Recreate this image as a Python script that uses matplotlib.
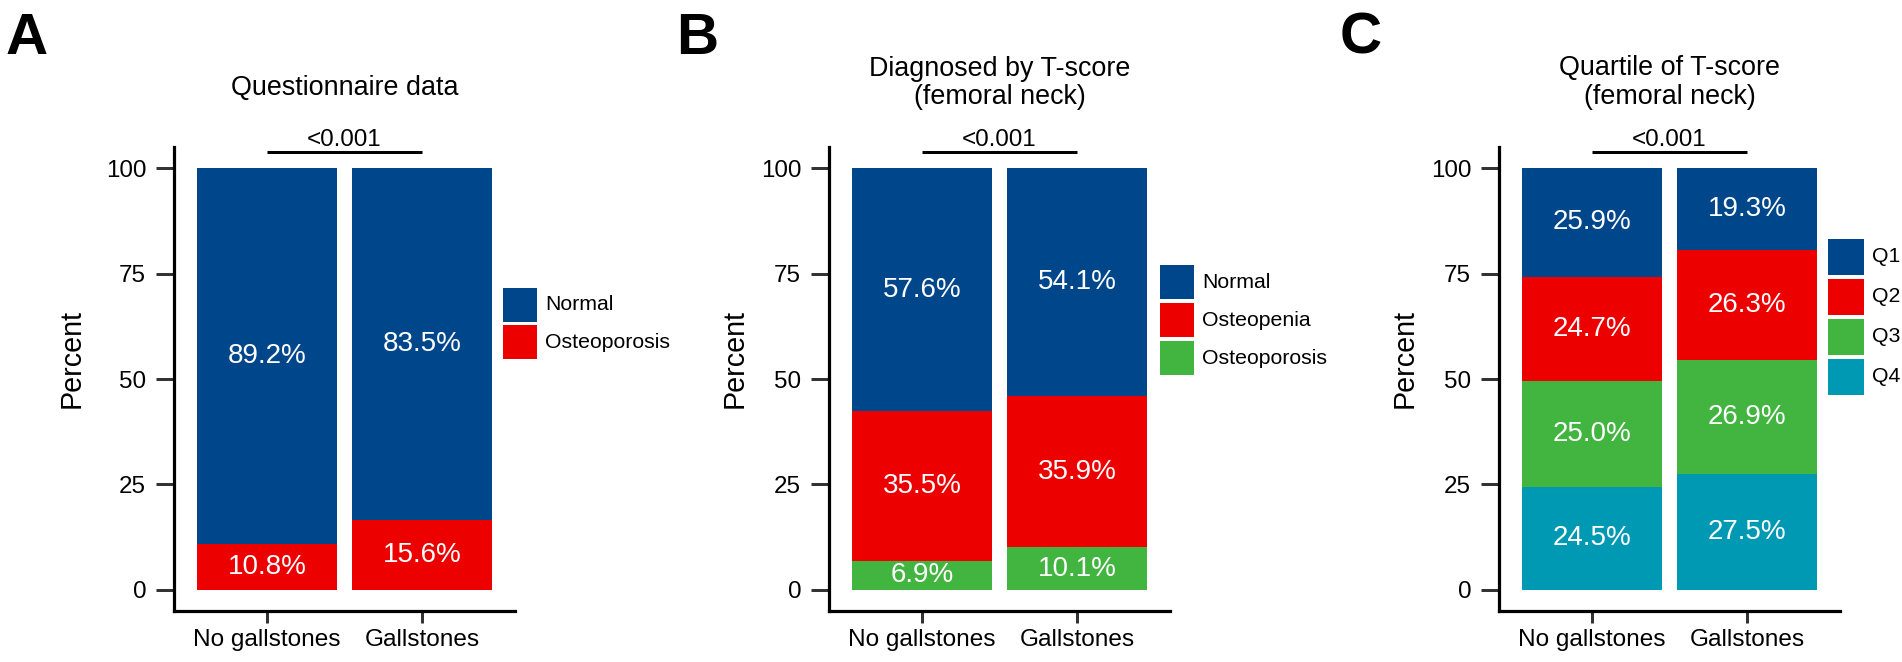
import matplotlib
matplotlib.use("Agg")
import matplotlib.pyplot as plt
from matplotlib.patches import Rectangle

plt.rcParams['font.family'] = ['Liberation Sans', 'DejaVu Sans']

# ---------------- data ----------------
groups = ["No gallstones", "Gallstones"]

a_title = "Questionnaire data"
a_cats = ["Normal", "Osteoporosis"]              # legend order (top to bottom)
a_normal = [89.2, 83.5]
a_osteoporosis = [10.8, 16.5]                    # drawn segment heights
a_osteoporosis_labels = ["10.8%", "15.6%"]       # printed labels in the figure
a_normal_labels = ["89.2%", "83.5%"]

b_title = "Diagnosed by T-score\n(femoral neck)"
b_cats = ["Normal", "Osteopenia", "Osteoporosis"]
b_normal = [57.6, 54.1]
b_osteopenia = [35.5, 35.9]
b_osteoporosis = [6.9, 10.1]

c_title = "Quartile of T-score\n(femoral neck)"
c_cats = ["Q1", "Q2", "Q3", "Q4"]
c_q1 = [25.9, 19.3]
c_q2 = [24.7, 26.3]
c_q3 = [25.0, 26.9]
c_q4 = [24.5, 27.5]

p_values = ["<0.001", "<0.001", "<0.001"]
panel_letters = ["A", "B", "C"]
y_ticks = [0, 25, 50, 75, 100]

BLUE, RED, GREEN, TEAL = "#00468B", "#ED0000", "#42B540", "#0099B4"


def pct(vals):
    return [f"{v:.1f}%" for v in vals]


# ---------------- layout (pixels) ----------------
W, H = 1902, 662
fig = plt.figure(figsize=(W / 100, H / 100), dpi=100)

AX_T, AX_B = 147, 611
panels = [
    dict(l=174, r=515, title=a_title, title_y=88,
         series=[a_osteoporosis, a_normal],
         labels=[a_osteoporosis_labels, a_normal_labels],
         colors=[RED, BLUE],
         cats=a_cats, cat_colors=[BLUE, RED],
         leg=(503, 288, 34, 37), letter_x=6, ylab_x=72),
    dict(l=829, r=1170, title=b_title, title_y=82.5,
         series=[b_osteoporosis, b_osteopenia, b_normal],
         labels=[pct(b_osteoporosis), pct(b_osteopenia), pct(b_normal)],
         colors=[GREEN, RED, BLUE],
         cats=b_cats, cat_colors=[BLUE, RED, GREEN],
         leg=(1160, 265, 34, 38), letter_x=676, ylab_x=735),
    dict(l=1499, r=1840, title=c_title, title_y=82.5,
         series=[c_q4, c_q3, c_q2, c_q1],
         labels=[pct(c_q4), pct(c_q3), pct(c_q2), pct(c_q1)],
         colors=[TEAL, GREEN, RED, BLUE],
         cats=c_cats, cat_colors=[BLUE, RED, GREEN, TEAL],
         leg=(1828, 239, 36, 40), letter_x=1340, ylab_x=1405),
]

PX = 1 / 1.3889  # points per pixel at dpi 100

for i, p in enumerate(panels):
    l, r = p["l"], p["r"]
    ax = fig.add_axes([l / W, 1 - AX_B / H, (r - l) / W, (AX_B - AX_T) / H])
    xs = list(range(1, len(groups) + 1))
    bottoms = [0.0] * len(groups)
    for vals, labs, col in zip(p["series"], p["labels"], p["colors"]):
        ax.bar(xs, vals, width=0.9, bottom=bottoms, color=col, linewidth=0)
        for x, b, v, lab in zip(xs, bottoms, vals, labs):
            ax.text(x, b + v / 2, lab, ha="center", va="center",
                    color="white", fontsize=20)
        bottoms = [b + v for b, v in zip(bottoms, vals)]

    ax.set_xlim(0.4, 2.6)
    ax.set_ylim(-5, 105)
    ax.set_xticks(xs)
    ax.set_xticklabels(groups, fontsize=17.6, color="black")
    ax.set_yticks(y_ticks)
    ax.set_yticklabels([str(t) for t in y_ticks], fontsize=17.4, color="black")
    for s in ["top", "right"]:
        ax.spines[s].set_visible(False)
    for s in ["left", "bottom"]:
        ax.spines[s].set_linewidth(3.2 * PX)
        ax.spines[s].set_color("black")
    ax.tick_params(axis="y", direction="out", length=18 * PX, width=3 * PX,
                   color="#333333", pad=10 * PX)
    ax.tick_params(axis="x", direction="out", length=12 * PX, width=3 * PX,
                   color="#333333", pad=6 * PX)

    ax_h = AX_B - AX_T
    ax.set_ylabel("Percent", fontsize=20.7, ha="center", va="center")
    ax.yaxis.set_label_coords((p["ylab_x"] - l) / (r - l), (AX_B - 358) / ax_h)

    # title
    ax.text(0.5, (AX_B - p["title_y"]) / ax_h, p["title"], transform=ax.transAxes,
            ha="center", va="center", fontsize=19.4, linespacing=1.1)

    # p-value bracket
    ax.plot([1, 2], [103.8, 103.8], color="black", lw=3 * PX, clip_on=False,
            solid_capstyle="butt")
    ax.text(1.5, 105.3, p_values[i], ha="center", va="baseline", fontsize=17.4,
            clip_on=False)

    # panel letter
    fig.text(p["letter_x"] / W, 1 - 54 / H, panel_letters[i], fontsize=42,
             fontweight="bold", ha="left", va="baseline")

    # legend
    lx, ly, ks, step = p["leg"]
    for j, (cat, col) in enumerate(zip(p["cats"], p["cat_colors"])):
        y0 = ly + j * step
        fig.add_artist(Rectangle((lx / W, 1 - (y0 + ks) / H), ks / W, ks / H,
                                 transform=fig.transFigure, facecolor=col,
                                 edgecolor="none"))
        fig.text((lx + ks + 8) / W, 1 - (y0 + ks / 2) / H, cat, fontsize=15.3,
                 ha="left", va="center")

fig.savefig("out.png", dpi=100)
